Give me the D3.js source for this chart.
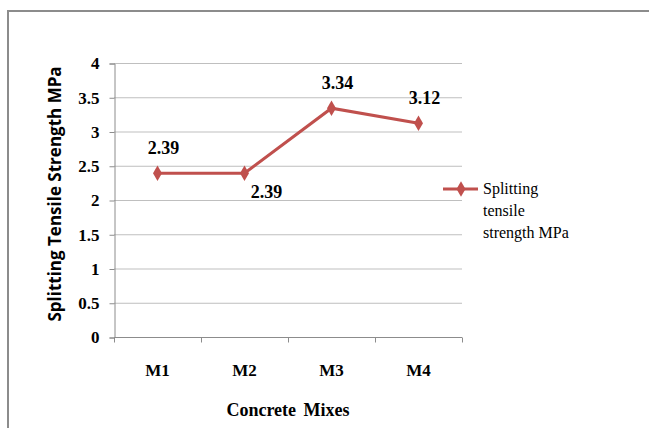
<!DOCTYPE html>
<html>
<head>
<meta charset="utf-8">
<script src="https://cdn.jsdelivr.net/npm/d3@7"></script>
<style>
  body { margin: 0; background: #fff; }
  svg { display: block; }
</style>
</head>
<body>
<script>
const mixes = ['M1', 'M2', 'M3', 'M4'];
const strength = [2.39, 2.39, 3.34, 3.12];
const y_ticks = [0, 0.5, 1, 1.5, 2, 2.5, 3, 3.5, 4];
const series_name = ['Splitting', 'tensile', 'strength MPa'];
const x_title = 'Concrete Mixes';
const y_title = 'Splitting Tensile Strength MPa';

const width = 649, height = 428;
const margins = {top: 63, left: 114, right: 187, bottom: 85};
const red = '#c0504d';
const serif = '"Liberation Serif", "Times New Roman", Times, serif';

var svg = d3.select('body').append('svg')
    .attr('width', width)
    .attr('height', height);

// chart frame
svg.append('rect')
    .attr('x', 8).attr('y', 11)
    .attr('width', 700).attr('height', 500)
    .attr('fill', 'none')
    .attr('stroke', '#8c8c8c')
    .attr('stroke-width', 2);

var plot_w = width - margins.left - margins.right;
var plot_h = height - margins.top - margins.bottom - 6;

var x_scale = d3.scaleBand()
    .domain(mixes)
    .range([0, plot_w]);

var y_scale = d3.scaleLinear()
    .domain([0, 4])
    .range([plot_h, 0]);

var g = svg.append('g')
    .attr('transform', 'translate(' + margins.left + ',' + margins.top + ')');

// gridlines
g.append('g').selectAll('line')
    .data(y_ticks.filter(d => d > 0))
    .enter().append('line')
    .attr('x1', 0).attr('x2', plot_w)
    .attr('y1', d => y_scale(d) + 0.5).attr('y2', d => y_scale(d) + 0.5)
    .attr('stroke', '#bfbfbf');

// y axis
var y_axis = d3.axisLeft(y_scale).tickValues(y_ticks).tickSize(5).tickPadding(10)
    .tickFormat(d => d);
var yg = g.append('g').attr('transform', 'translate(0.5,0.5)').call(y_axis);
yg.attr('font-family', null);
yg.select('.domain').attr('stroke', '#8c8c8c');
yg.selectAll('.tick line').attr('stroke', '#8c8c8c');
yg.selectAll('.tick text')
    .style('font-family', serif).style('font-weight', 'bold')
    .style('font-size', '17px').attr('fill', '#000');

// x axis
var x_axis = d3.axisBottom(x_scale).tickSize(0).tickPadding(26);
var xg = g.append('g').attr('transform', 'translate(0,' + (plot_h + 0.5) + ')').call(x_axis);
xg.attr('font-family', null);
xg.select('.domain').attr('stroke', '#8c8c8c').attr('d', 'M0,0H' + plot_w);
xg.selectAll('.tick text')
    .style('font-family', serif).style('font-weight', 'bold')
    .style('font-size', '17px').attr('fill', '#000');
// category boundary ticks
xg.append('g').selectAll('line')
    .data(mixes.concat(['end']))
    .enter().append('line')
    .attr('x1', (d, i) => i * x_scale.step() + 0.5)
    .attr('x2', (d, i) => i * x_scale.step() + 0.5)
    .attr('y1', 0).attr('y2', 5)
    .attr('stroke', '#8c8c8c');

// line series
var pts = mixes.map((m, i) => ({mix: m, value: strength[i]}));
var line = d3.line()
    .x(d => x_scale(d.mix) + x_scale.bandwidth() / 2)
    .y(d => y_scale(d.value));

g.append('path')
    .datum(pts)
    .attr('d', line)
    .attr('fill', 'none')
    .attr('stroke', red)
    .attr('stroke-width', 3);

var diamond = d3.symbol().type(d3.symbolDiamond).size(70);
g.selectAll('.marker')
    .data(pts)
    .enter().append('path')
    .attr('class', 'marker')
    .attr('d', diamond)
    .attr('transform', d => 'translate(' + (x_scale(d.mix) + x_scale.bandwidth() / 2) + ',' + y_scale(d.value) + ')')
    .attr('fill', red);

// data labels (M2 sits below its point)
g.selectAll('.dlabel')
    .data(pts)
    .enter().append('text')
    .attr('class', 'dlabel')
    .attr('x', (d, i) => x_scale(d.mix) + x_scale.bandwidth() / 2 + (i === 1 ? 22 : 6))
    .attr('y', (d, i) => y_scale(d.value) + (i === 1 ? 25 : -19))
    .attr('text-anchor', 'middle')
    .style('font-family', serif).style('font-weight', 'bold')
    .style('font-size', '18px')
    .text(d => d.value.toFixed(2));

// axis titles
svg.append('text')
    .attr('x', margins.left + plot_w / 2)
    .attr('y', 416)
    .attr('text-anchor', 'middle')
    .style('font-family', serif).style('font-weight', 'bold')
    .style('font-size', '18px')
    .style('word-spacing', '3px')
    .text(x_title);

svg.append('text')
    .attr('transform', 'translate(61,194) rotate(-90)')
    .attr('text-anchor', 'middle')
    .style('font-family', '"Open Sans", "Noto Sans", sans-serif').style('font-weight', 'bold')
    .style('font-size', '17px')
    .text(y_title);

// legend
var legend = svg.append('g').attr('transform', 'translate(443,189)');
legend.append('line')
    .attr('x1', 0).attr('x2', 35)
    .attr('y1', 0).attr('y2', 0)
    .attr('stroke', red).attr('stroke-width', 3);
legend.append('path')
    .attr('d', diamond)
    .attr('transform', 'translate(18,0)')
    .attr('fill', red);
legend.selectAll('text')
    .data(series_name)
    .enter().append('text')
    .attr('x', 40)
    .attr('y', (d, i) => 5 + i * 22)
    .style('font-family', serif)
    .style('font-size', '16px')
    .text(d => d);
</script>
</body>
</html>
